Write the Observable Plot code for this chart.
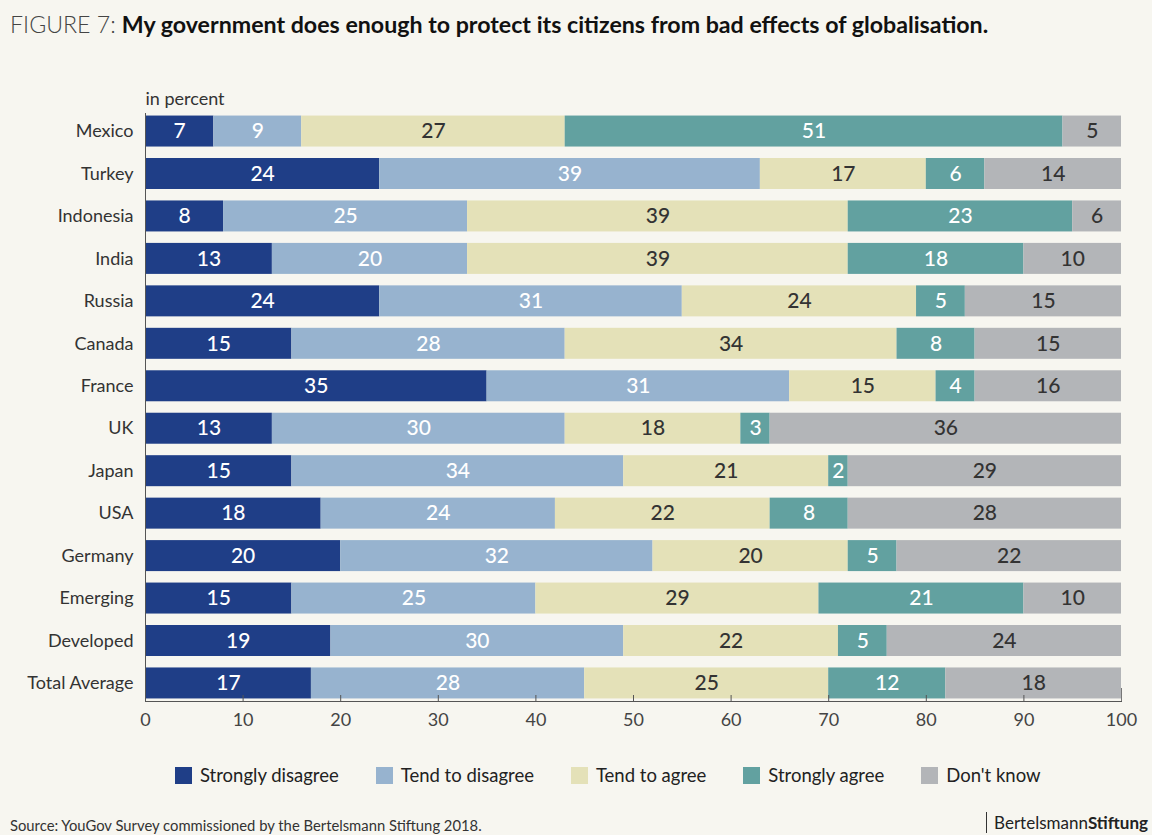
<!DOCTYPE html>
<html>
<head>
<meta charset="utf-8">
<script src="https://cdn.jsdelivr.net/npm/d3@7"></script>
<script src="https://cdn.jsdelivr.net/npm/@observablehq/plot@0.6"></script>
<style>
  html, body { margin: 0; padding: 0; background: #f7f6f0; }
  body { width: 1152px; height: 835px; position: relative; overflow: hidden; font-family: Lato, "Open Sans", sans-serif; color: #222; }
  #title { position: absolute; left: 10px; top: 10px; font-size: 23.2px; line-height: 28px; white-space: nowrap; }
  #title .fig { font-weight: 300; color: #444; }
  #title .main { font-weight: 700; color: #111; }
  #chart { position: absolute; left: 0; top: 60px; }
  #legend { position: absolute; left: 175px; top: 764px; display: flex; gap: 37px; font-size: 18.5px; color: #222; }
  #legend .item { display: flex; align-items: center; }
  #legend .sw { width: 17px; height: 17px; margin-right: 8px; }
  #source { position: absolute; left: 10px; top: 816px; font-size: 14.8px; color: #333; }
  #brand { position: absolute; right: 4px; top: 812px; font-size: 17px; color: #222; border-left: 1.5px solid #333; padding-left: 7px; line-height: 21px; }
  #brand b { font-weight: 700; }
</style>
</head>
<body>
<div id="title"><span class="fig">FIGURE 7:</span> <span class="main">My government does enough to protect its citizens from bad effects of globalisation.</span></div>
<div id="chart"></div>
<div id="legend"></div>
<div id="source">Source: YouGov Survey commissioned by the Bertelsmann Stiftung 2018.</div>
<div id="brand">Bertelsmann<b>Stiftung</b></div>
<script>
const countries = ["Mexico","Turkey","Indonesia","India","Russia","Canada","France","UK","Japan","USA","Germany","Emerging","Developed","Total Average"];
const categories = ["Strongly disagree","Tend to disagree","Tend to agree","Strongly agree","Don't know"];
const colors = ["#1f3e87","#97b3cf","#e4e1b8","#62a1a0","#b3b5b8"];
const labelColors = ["#ffffff","#ffffff","#333333","#ffffff","#333333"];
const stronglyDisagree = [7,24,8,13,24,15,35,13,15,18,20,15,19,17];
const tendDisagree     = [9,39,25,20,31,28,31,30,34,24,32,25,30,28];
const tendAgree        = [27,17,39,39,24,34,15,18,21,22,20,29,22,25];
const stronglyAgree    = [51,6,23,18,5,8,4,3,2,8,5,21,5,12];
const dontKnow         = [5,14,6,10,15,15,16,36,29,28,22,10,24,18];
const xTicks = [0,10,20,30,40,50,60,70,80,90,100];

const series = [stronglyDisagree, tendDisagree, tendAgree, stronglyAgree, dontKnow];
const rows = [];
countries.forEach((c, i) => {
  let cum = 0;
  series.forEach((s, k) => {
    const x1 = Math.min(cum, 100);
    cum += s[i];
    const x2 = k === series.length - 1 ? 100 : Math.min(cum, 100);
    rows.push({country: c, category: categories[k], value: s[i], x1, x2, xm: (x1 + x2) / 2, lc: labelColors[k]});
  });
});

const plot = Plot.plot({
  width: 1152,
  height: 680,
  marginLeft: 145,
  marginRight: 31,
  marginTop: 53,
  marginBottom: 39,
  style: {background: "transparent", fontFamily: "Lato, 'Open Sans', sans-serif"},
  x: {domain: [0, 100], label: null},
  y: {domain: countries, paddingInner: 0.27, paddingOuter: 0.06, round: false, label: null},
  color: {domain: categories, range: colors},
  marks: [
    Plot.barX(rows, {y: "country", x1: "x1", x2: "x2", fill: "category"}),
    Plot.text(rows, {y: "country", x: "xm", text: d => String(d.value), fill: "lc", fontSize: 21, fontWeight: 500, dy: 0}),
    Plot.ruleX([0], {stroke: "#555", strokeWidth: 1}),
    Plot.frame({anchor: "bottom", stroke: "#555"}),
    Plot.ruleX(xTicks.slice(0, -1), {stroke: "#555", insetTop: 582}),
    Plot.ruleX([100], {stroke: "#777", insetTop: 575}),
    Plot.axisX({ticks: xTicks, tickSize: 0, tickPadding: 12, fontSize: 18, color: "#444"}),
    Plot.axisY({tickSize: 0, tickPadding: 12, fontSize: 18, color: "#333"}),
    Plot.text(["in percent"], {frameAnchor: "top-left", text: d => d, dy: -21, textAnchor: "start", fontSize: 18, fill: "#333"})
  ]
});
document.getElementById("chart").appendChild(plot);

const legend = document.getElementById("legend");
categories.forEach((c, k) => {
  const item = document.createElement("div");
  item.className = "item";
  const sw = document.createElement("span");
  sw.className = "sw";
  sw.style.background = colors[k];
  const t = document.createElement("span");
  t.textContent = c;
  item.appendChild(sw);
  item.appendChild(t);
  legend.appendChild(item);
});
</script>
</body>
</html>
